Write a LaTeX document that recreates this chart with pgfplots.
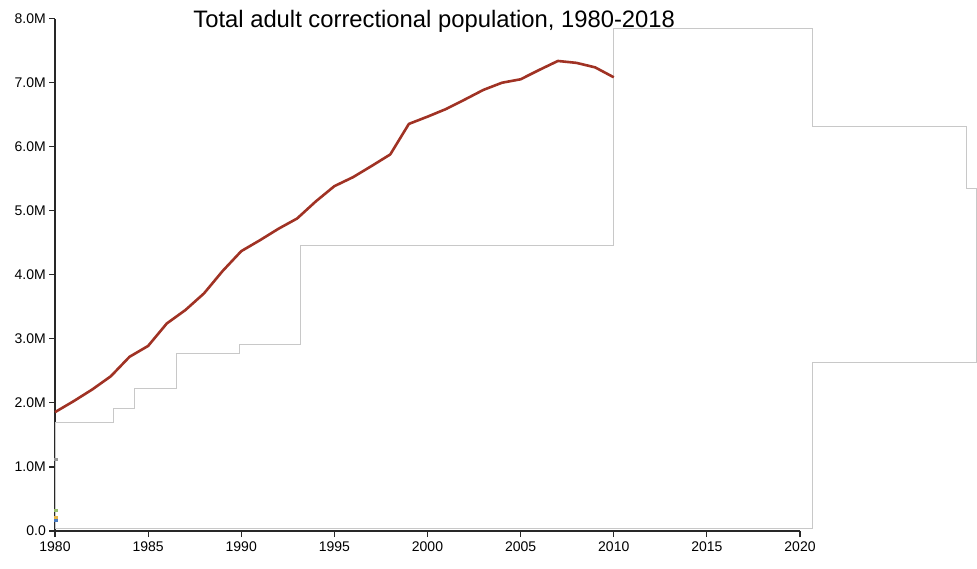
\documentclass[border=0pt]{standalone}
\usepackage{fontspec}
\setmainfont{Liberation Sans}
\usepackage{pgfplots}
\pgfplotsset{compat=1.18}
\definecolor{popred}{RGB}{160,50,36}
\definecolor{stepgray}{RGB}{200,200,200}
\definecolor{axisgray}{RGB}{40,40,40}
\definecolor{dotgreen}{RGB}{150,190,110}
\definecolor{dotyellow}{RGB}{230,180,70}
\definecolor{dotblue}{RGB}{70,120,190}
\definecolor{dotgray}{RGB}{150,150,150}
\begin{document}
\begin{tikzpicture}
\path[use as bounding box] (-55bp,-38bp) rectangle (922bp,531bp);
\begin{axis}[
    at={(0,0)}, anchor=south west,
    scale only axis,
    width=745bp, height=512.3bp,
    xmin=1980, xmax=2020,
    ymin=0, ymax=8,
    clip=false,
    axis lines=left,
    axis line style={-, draw=axisgray, line width=1.3bp},
    tick style={draw=axisgray, line width=1.1bp},
    tick align=outside,
    major tick length=6bp,
    xtick={1980,1985,...,2020},
    xticklabels={1980,1985,1990,1995,2000,2005,2010,2015,2020},
    ytick={0,1,...,8},
    yticklabels={0.0,1.0M,2.0M,3.0M,4.0M,5.0M,6.0M,7.0M,8.0M},
    /pgf/number format/assume math mode=true,
    ticklabel style={font=\fontsize{14bp}{16bp}\selectfont, text=black},
    xticklabel style={inner sep=0pt, yshift=-5bp},
    yticklabel style={inner sep=0pt, xshift=-3bp},
    title={Total adult correctional population, 1980-2018},
    title style={at={(rel axis cs:0.509,0.972)}, anchor=base,
                 font=\fontsize{23.8bp}{26bp}\selectfont, inner sep=0pt},
]
% thin grey step outline
\addplot[stepgray, line width=1bp, line join=miter] coordinates {
(1980.03,0.035) (1980.03,1.69) (1983.13,1.69) (1983.13,1.91)
(1984.26,1.91) (1984.26,2.225) (1986.5,2.225) (1986.5,2.776)
(1989.93,2.776) (1989.93,2.916) (1993.2,2.916) (1993.2,4.46)
(2010,4.46) (2010,7.84) (2020.66,7.84) (2020.66,6.316)
(2028.95,6.316) (2028.95,5.344) (2029.45,5.344) (2029.45,2.635)
(2020.66,2.635) (2020.66,0.035) (1980.03,0.035)
};
% tiny marks at the left edge
\addplot[only marks, mark=square*, mark size=1.1bp, color=dotgreen] coordinates {(1980.04,0.327)};
\addplot[only marks, mark=square*, mark size=1.1bp, color=dotyellow] coordinates {(1980.04,0.218)};
\addplot[only marks, mark=square*, mark size=1.1bp, color=dotblue] coordinates {(1980.04,0.173)};
\addplot[only marks, mark=square*, mark size=1.1bp, color=dotgray] coordinates {(1980.04,1.12)};
% total adult correctional population (millions)
\addplot[popred, line width=2.6bp, line join=round] coordinates {
(1980,1.856) (1981,2.027) (1982,2.21) (1983,2.417) (1984,2.72)
(1985,2.89) (1986,3.24) (1987,3.45) (1988,3.71) (1989,4.06)
(1990,4.37) (1991,4.54) (1992,4.72) (1993,4.88) (1994,5.146)
(1995,5.385) (1996,5.525) (1997,5.70) (1998,5.88) (1999,6.357)
(2000,6.47) (2001,6.59) (2002,6.737) (2003,6.888) (2004,7.0)
(2005,7.054) (2006,7.20) (2007,7.34) (2008,7.31) (2009,7.24)
(2010,7.085)
};
\end{axis}
\end{tikzpicture}
\end{document}
